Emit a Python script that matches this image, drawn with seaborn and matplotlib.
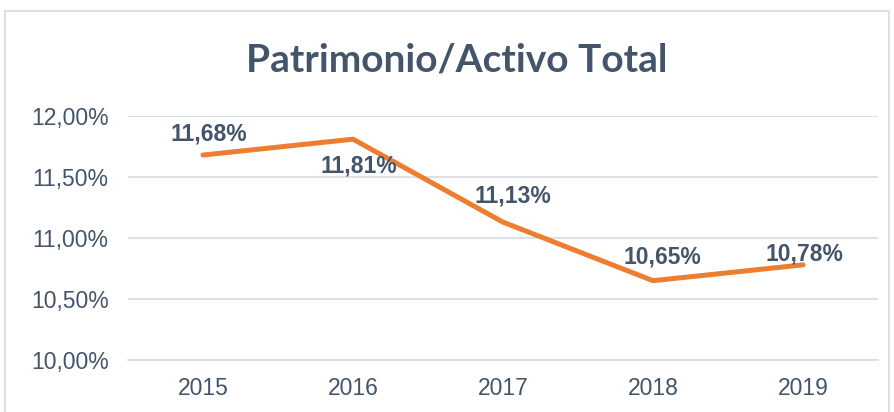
import numpy as np
import pandas as pd
import matplotlib.pyplot as plt
import seaborn as sns
from matplotlib.patches import Rectangle

# data
years = ["2015", "2016", "2017", "2018", "2019"]
ratio = [11.68, 11.81, 11.13, 10.65, 10.78]
labels = ["11,68%", "11,81%", "11,13%", "10,65%", "10,78%"]
# label offsets (points) relative to each point
offsets = [(4, 15), (4, -19), (7, 19), (7, 17), (1, 8)]

df = pd.DataFrame({"pos": np.arange(len(years)), "ratio": ratio})

sns.set_style("white")
plt.rcParams["font.family"] = ["Liberation Sans", "DejaVu Sans"]

text_col = "#44546A"
grid_col = "#D9DEE6"

fig = plt.figure(figsize=(8.94, 4.12), dpi=100)
ax = fig.add_axes([128 / 894, 1 - 360 / 412, 750 / 894, 244 / 412])

sns.lineplot(data=df, x="pos", y="ratio", ax=ax, color="#ED7D31",
             linewidth=3.6, solid_capstyle="round")

ax.set_xlim(-0.5, len(years) - 0.5)
ax.set_ylim(10, 12)
ax.set_yticks([10, 10.5, 11, 11.5, 12])
ax.set_yticklabels(["10,00%", "10,50%", "11,00%", "11,50%", "12,00%"])
ax.set_xticks(df["pos"])
ax.set_xticklabels(years)
ax.set_xticks(np.arange(-0.5, len(years)), minor=True)
ax.tick_params(axis="x", which="major", length=0, pad=12, labelsize=16.5, labelcolor=text_col)
ax.tick_params(axis="x", which="minor", length=6, color=grid_col, width=1.2)
ax.tick_params(axis="y", length=0, pad=14, labelsize=16.5, labelcolor=text_col)
ax.yaxis.grid(True, color=grid_col, linewidth=1.3)
ax.set_axisbelow(True)
ax.set_xlabel("")
ax.set_ylabel("")
for s in ["top", "right", "left"]:
    ax.spines[s].set_visible(False)
ax.spines["bottom"].set_color(grid_col)
ax.spines["bottom"].set_linewidth(1.3)

for i, (v, lab) in enumerate(zip(ratio, labels)):
    ax.annotate(lab, (i, v), xytext=offsets[i], textcoords="offset points",
                ha="center", va="center", fontsize=16.5, fontweight="bold",
                color=text_col)

fig.text(457 / 894, 1 - 60 / 412, "Patrimonio/Activo Total", ha="center", va="center",
         fontsize=28, fontweight="bold", color=text_col, family="Lato")

fig.patches.append(Rectangle((5 / 894, -0.05), 884 / 894, 1.05 - 11 / 412,
                             transform=fig.transFigure, fill=False,
                             edgecolor="#D9D9D9", linewidth=1.2))

fig.savefig("out.png", dpi=100)
